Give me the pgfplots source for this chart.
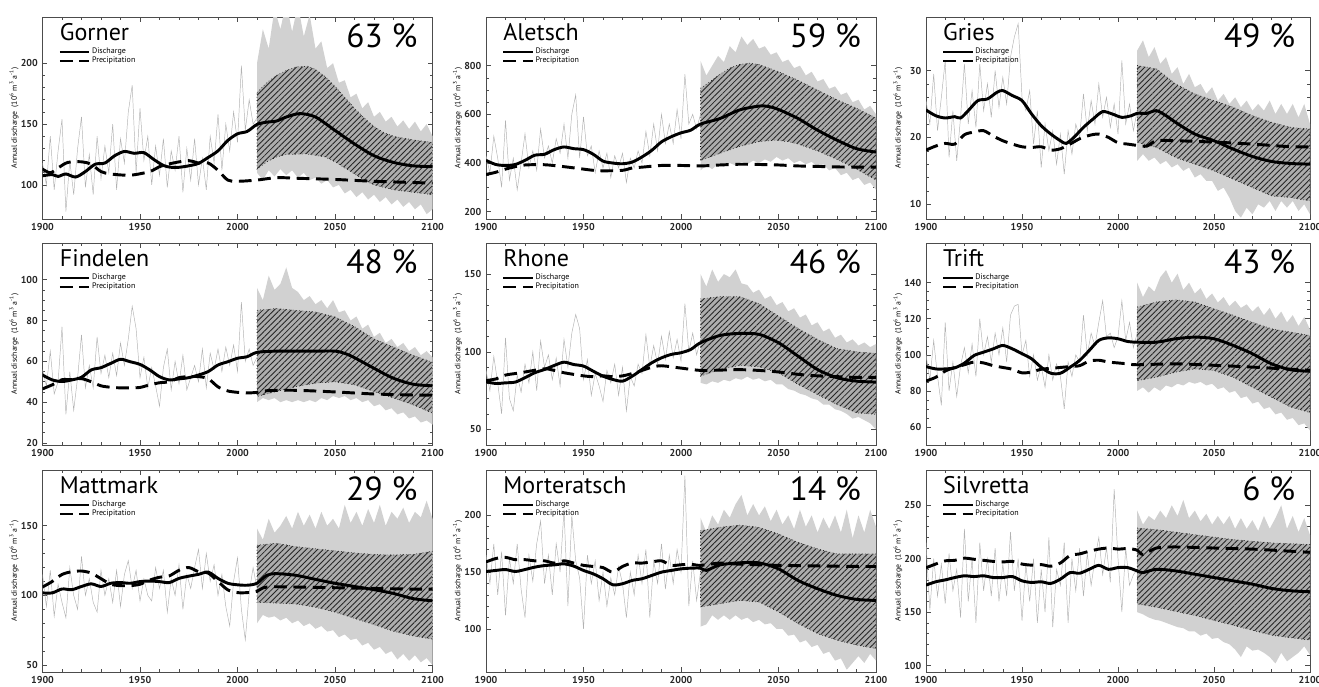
\documentclass[border=0pt]{standalone}
\usepackage{fontspec}
\setmainfont{PT Sans}
\usepackage{pgfplots}
\pgfplotsset{compat=1.18}
\usetikzlibrary{patterns.meta}
\pgfplotsset{
 panel/.style={
   scale only axis, width=292.5pt, height=151.5pt, anchor=north west,
   xmin=1900, xmax=2100, xtick={1900,1950,2000,2050,2100}, minor x tick num=4,
   /pgf/number format/assume math mode=true,
   /pgf/number format/1000 sep={},
   tick label style={font=\fontsize{7.5}{8}\selectfont\bfseries, text=black!85},
   major tick length=3.5pt, minor tick length=2pt,
   every tick/.style={black!70, line width=0.4pt},
   axis line style={black!70, line width=0.5pt},
   tick align=inside,
   legend style={at={(0.041,0.855)}, anchor=north west, draw=none, fill=none,
     font=\fontsize{6}{7}\selectfont, inner sep=0pt, row sep=-1.5pt,
     nodes={inner sep=1.2pt}},
   legend cell align=left,
   legend image code/.code={\draw[#1, line width=1.8pt] (0pt,0pt) -- (22pt,0pt);},
   ylabel={Annual discharge\ \ (10\textsuperscript{6} m\textsuperscript{3} a\textsuperscript{-1})},
   every axis y label/.style={at={(axis description cs:-0.073,0.5)}, rotate=90, anchor=center, font=\fontsize{5.8}{6.5}\selectfont},
 },
 narrow/.style={width=288pt},
 hist/.style={black!30, line width=0.35pt, forget plot},
 env/.style={fill=black!18, draw=none, forget plot},
 band/.style={fill=black!32, draw=black, dotted, line width=0.45pt,
   postaction={draw=none, solid, pattern={Lines[angle=45,distance=3pt,line width=0.65pt]}, pattern color=black!85},
   forget plot},
 dis/.style={black, line width=2.2pt, smooth},
 pre/.style={black, line width=2.2pt, dash pattern=on 9.5pt off 5pt, smooth},
}
\newcommand{\ttl}[2]{%
  \node[anchor=base west, inner sep=0pt, font=\fontsize{18}{20}\selectfont] at (rel axis cs:0.044,0.886) {#1};
  \node[anchor=base east, inner sep=0pt, font=\fontsize{25}{28}\selectfont] at (rel axis cs:0.962,0.851) {#2};}
\begin{document}
\begin{tikzpicture}
\path[use as bounding box] (0,0) rectangle (989.25pt,-514.5pt);
% ---------------- Gorner
\begin{axis}[panel, at={(31.875pt,-12.75pt)}, ymin=72, ymax=238, ytick={100,150,200}, minor y tick num=4]
\addplot[env] coordinates {(2010,200)(2013,228)(2016,212)(2019,245)(2022,228)(2025,250)(2028,226)(2031,248)(2034,222)(2037,240)(2040,212)(2043,218)(2046,196)(2049,200)(2052,184)(2055,186)(2058,172)(2061,175)(2064,163)(2067,168)(2070,156)(2073,160)(2076,152)(2079,156)(2082,148)(2085,153)(2088,146)(2091,152)(2094,144)(2097,150)(2100,140)
(2100,80)(2097,76)(2094,84)(2091,80)(2088,86)(2085,82)(2082,88)(2079,84)(2076,90)(2073,86)(2070,92)(2067,88)(2064,94)(2061,90)(2058,96)(2055,93)(2052,100)(2049,98)(2046,104)(2043,101)(2040,106)(2037,104)(2034,110)(2031,106)(2028,112)(2025,108)(2022,113)(2019,107)(2016,112)(2013,104)(2010,110)};
\addplot[band] coordinates {(2010,176)(2015,184)(2020,190)(2025,194)(2030,197)(2036,197.5)(2040,195)(2045,189)(2050,181)(2055,172)(2060,163)(2065,155)(2070,148)(2075,143)(2080,140)(2090,137)(2100,135)
(2100,92)(2090,94)(2080,96)(2070,100)(2065,104)(2060,109)(2055,114)(2050,119)(2045,123)(2035,125.5)(2025,125)(2020,123)(2015,119)(2010,113)(2010,176)};
\addplot[hist] coordinates {(1900,118)(1902,100)(1904,140)(1906,96)(1908,128)(1910,154)(1912,78)(1914,120)(1916,92)(1918,130)(1920,156)(1922,98)(1924,125)(1926,92)(1928,140)(1930,105)(1932,132)(1934,110)(1936,150)(1938,96)(1940,138)(1942,118)(1944,160)(1946,182)(1948,110)(1950,163)(1952,120)(1954,140)(1956,100)(1958,132)(1960,108)(1962,138)(1964,98)(1966,128)(1968,112)(1970,140)(1972,94)(1974,130)(1976,104)(1978,138)(1980,100)(1982,122)(1984,96)(1986,140)(1988,118)(1990,158)(1992,112)(1994,150)(1996,128)(1998,160)(2000,135)(2002,198)(2004,145)(2006,170)(2008,150)(2010,155)};
\addplot[dis] coordinates {(1900,107.5)(1905,108.5)(1908,107)(1912,109)(1917,106.5)(1922,111)(1927,117)(1932,118)(1937,124)(1942,127.5)(1947,126)(1952,126.5)(1957,121)(1962,116)(1966,114.5)(1970,114.5)(1975,115.7)(1980,117.7)(1985,122.6)(1990,128)(1995,136.5)(2000,142)(2005,144)(2010,149.7)(2015,151.6)(2020,152.5)(2025,155.8)(2032,158.6)(2040,155.8)(2050,144.8)(2060,133.7)(2070,124)(2080,118.5)(2090,115.7)(2100,115)};
\addlegendentry{Discharge}
\addplot[pre] coordinates {(1900,113)(1904,110)(1908,114)(1913,118.5)(1920,119)(1925,117)(1930,111)(1935,109)(1945,108)(1955,111)(1960,115)(1967,118)(1975,120)(1980,118)(1985,118)(1990,112)(1995,104)(2000,103)(2010,104)(2020,106)(2030,105.5)(2050,104.5)(2070,103)(2100,101.5)};
\addlegendentry{Precipitation}
\ttl{Gorner}{63 \%}
\end{axis}
% ---------------- Aletsch
\begin{axis}[panel, at={(364.5pt,-12.75pt)}, ymin=170, ymax=1000, ytick={200,400,600,800}, minor y tick num=3]
\addplot[env] coordinates {(2010,820)(2013,760)(2016,800)(2019,840)(2022,815)(2025,880)(2028,855)(2031,920)(2034,885)(2037,910)(2040,870)(2043,880)(2046,845)(2049,855)(2052,815)(2055,825)(2058,790)(2061,800)(2064,760)(2067,775)(2070,735)(2073,745)(2076,705)(2079,715)(2082,680)(2085,690)(2088,650)(2091,660)(2094,620)(2097,635)(2100,600)
(2100,290)(2097,320)(2094,310)(2091,340)(2088,330)(2085,360)(2082,350)(2079,380)(2076,370)(2073,395)(2070,385)(2067,405)(2064,395)(2061,410)(2058,400)(2055,420)(2052,410)(2049,425)(2046,405)(2043,415)(2040,400)(2037,410)(2034,395)(2031,405)(2028,390)(2025,400)(2022,385)(2019,395)(2016,375)(2013,390)(2010,370)};
\addplot[band] coordinates {(2010,707)(2015,735)(2020,765)(2025,790)(2030,805)(2035,810)(2040,805)(2050,775)(2060,740)(2070,700)(2080,660)(2090,625)(2100,585)
(2100,330)(2090,375)(2080,415)(2070,450)(2060,478)(2055,488)(2048,494)(2040,488)(2030,468)(2020,440)(2010,410)(2010,707)};
\addplot[hist] coordinates {(1900,430)(1902,360)(1904,510)(1906,420)(1908,300)(1910,575)(1912,330)(1914,420)(1916,290)(1918,400)(1920,520)(1922,380)(1924,450)(1926,370)(1928,540)(1930,420)(1932,470)(1934,400)(1936,500)(1938,440)(1940,560)(1942,420)(1944,600)(1946,680)(1948,420)(1950,590)(1952,430)(1954,470)(1956,360)(1958,450)(1960,380)(1962,440)(1964,340)(1966,430)(1968,380)(1970,440)(1972,320)(1974,420)(1976,380)(1978,450)(1980,400)(1982,530)(1984,430)(1986,560)(1988,450)(1990,600)(1992,480)(1994,560)(1996,480)(1998,620)(2000,500)(2002,765)(2004,560)(2006,600)(2008,540)(2010,600)};
\addplot[dis] coordinates {(1900,411)(1905,394)(1910,390)(1915,394)(1920,411)(1925,432)(1930,436)(1935,455)(1940,466)(1945,459)(1950,455)(1955,436)(1960,408)(1965,400)(1970,397)(1975,404)(1980,425)(1985,452)(1990,487)(1995,508)(2000,524)(2005,535)(2010,560)(2020,583)(2030,618)(2040,634)(2045,632)(2050,620)(2060,583)(2070,535)(2080,494)(2090,459)(2100,445)};
\addlegendentry{Discharge}
\addplot[pre] coordinates {(1900,353)(1905,362)(1910,375)(1915,385)(1920,392)(1930,393)(1940,385)(1950,375)(1955,370)(1960,368)(1970,370)(1975,380)(1980,383)(1990,390)(2000,390)(2010,388)(2020,392)(2030,395)(2040,394)(2050,392)(2060,388)(2070,386)(2080,384)(2090,383)(2100,383)};
\addlegendentry{Precipitation}
\ttl{Aletsch}{59 \%}
\end{axis}
% ---------------- Gries
\begin{axis}[panel, narrow, at={(694.5pt,-12.75pt)}, ymin=7.8, ymax=38, ytick={10,20,30}, minor y tick num=4]
\addplot[env] coordinates {(2010,33)(2013,34.5)(2016,32)(2019,33.5)(2022,31)(2025,32)(2028,29.5)(2031,30.5)(2034,28)(2037,29.5)(2040,27.5)(2043,28)(2046,26.5)(2049,27.5)(2052,25.5)(2055,26.5)(2058,25)(2061,26)(2064,24.5)(2067,25.5)(2070,24)(2073,25)(2076,24)(2079,25.5)(2082,23.5)(2085,25)(2088,23.5)(2091,25)(2094,23)(2097,25)(2100,22)
(2100,8.5)(2097,10)(2094,9)(2091,10.5)(2088,9.5)(2085,10.5)(2082,9)(2079,10.5)(2076,9.5)(2073,10)(2070,8.5)(2067,9.5)(2064,8)(2061,9)(2058,11)(2055,12.5)(2052,12)(2049,13.5)(2046,13.5)(2043,14.5)(2040,14)(2037,15.5)(2034,15)(2031,16)(2028,15.5)(2025,16.5)(2022,16)(2019,17)(2016,16.5)(2013,17.5)(2010,16.5)};
\addplot[band] coordinates {(2010,30.75)(2020,30.25)(2030,28)(2040,26.5)(2050,25.5)(2060,24.5)(2070,23.25)(2080,22.25)(2090,21.5)(2100,21.25)
(2100,10.5)(2090,11)(2080,11.25)(2070,12.5)(2060,13.75)(2050,15)(2040,16)(2030,17)(2020,18.5)(2010,19.25)(2010,30.75)};
\addplot[hist] coordinates {(1900,25.5)(1902,22)(1904,29.5)(1906,21)(1908,26)(1910,31.5)(1912,17)(1914,24)(1916,16.5)(1918,23)(1920,31)(1922,22)(1924,27)(1926,21.5)(1928,31)(1930,24)(1932,28)(1934,23)(1936,30)(1938,24.5)(1940,29)(1942,25)(1944,32)(1946,35)(1948,37)(1950,26)(1952,24)(1954,27)(1956,19)(1958,24)(1960,15.5)(1962,22)(1964,18)(1966,21)(1968,16)(1970,20.5)(1972,14.5)(1974,21)(1976,17.5)(1978,22)(1980,20)(1982,26.5)(1984,21)(1986,25.5)(1988,22)(1990,28)(1992,23)(1994,26)(1996,21.5)(1998,25)(2000,20.5)(2002,31.5)(2004,22)(2006,25)(2008,21)(2010,24)};
\addplot[dis] coordinates {(1900,24.1)(1905,23.25)(1910,22.9)(1915,23.1)(1918,22.9)(1922,24)(1927,25.5)(1932,25.75)(1937,26.75)(1940,27)(1945,26.25)(1950,25.5)(1955,23.5)(1960,21.75)(1965,20.5)(1970,19.5)(1973,19.1)(1977,20)(1982,21.5)(1987,22.75)(1992,23.85)(1997,23.5)(2002,23)(2007,23.25)(2010,23.6)(2015,23.6)(2020,24)(2025,23.25)(2030,22.25)(2040,20.5)(2050,19.5)(2060,18.25)(2070,17.15)(2080,16.4)(2090,16.1)(2100,16)};
\addlegendentry{Discharge}
\addplot[pre] coordinates {(1900,18.1)(1905,18.7)(1910,19.1)(1915,19.0)(1920,20.4)(1925,20.8)(1930,21.0)(1935,20.2)(1940,19.5)(1945,19.0)(1950,18.6)(1955,18.5)(1960,18.6)(1965,18.1)(1970,18.3)(1975,19.0)(1980,19.8)(1985,20.3)(1990,20.5)(1995,20.0)(2000,19.2)(2005,19.0)(2010,18.8)(2015,18.7)(2020,19.5)(2030,19.5)(2050,19.3)(2070,19.0)(2090,18.6)(2100,18.6)};
\addlegendentry{Precipitation}
\ttl{Gries}{49 \%}
\end{axis}
% ---------------- Findelen
\begin{axis}[panel, at={(31.875pt,-182.25pt)}, ymin=19, ymax=118, ytick={20,40,60,80,100}, minor y tick num=3]
\addplot[env] coordinates {(2010,96)(2013,90)(2016,102)(2019,95)(2022,98)(2025,106)(2028,96)(2031,94)(2034,90)(2037,92)(2040,88)(2043,90)(2046,86)(2049,90)(2052,84)(2055,85)(2058,80)(2061,82)(2064,76)(2067,78)(2070,72)(2073,74)(2076,69)(2079,71)(2082,67)(2085,69)(2088,65)(2091,67)(2094,63)(2097,65)(2100,62)
(2100,29)(2097,31)(2094,30)(2091,33)(2088,32)(2085,35)(2082,34)(2079,37)(2076,36)(2073,39)(2070,38)(2067,41)(2064,40)(2061,42)(2058,41)(2055,43)(2052,42)(2049,43)(2046,41)(2043,42)(2040,40)(2037,41)(2034,40)(2031,41)(2028,40)(2025,41)(2022,40)(2019,42)(2016,41)(2013,42)(2010,40)};
\addplot[band] coordinates {(2010,85)(2020,85.9)(2030,85)(2040,84.2)(2050,81.8)(2060,77)(2070,71)(2080,67)(2090,63)(2100,59.5)
(2100,34.6)(2090,38.7)(2080,42)(2070,45.2)(2060,48.5)(2050,50)(2040,49.3)(2030,47.6)(2020,45.2)(2010,42.8)(2010,85)};
\addplot[hist] coordinates {(1900,56)(1902,48)(1904,65)(1906,44)(1908,50)(1910,77)(1912,34)(1914,55)(1916,36)(1918,52)(1920,73)(1922,47)(1924,58)(1926,47)(1928,72)(1930,54)(1932,63)(1934,52)(1936,64)(1938,53)(1940,69)(1942,58)(1944,71)(1946,87)(1948,76)(1950,52)(1952,62)(1954,47)(1956,57)(1958,48)(1960,38)(1962,57)(1964,66)(1966,46)(1968,60)(1970,49)(1972,63)(1974,46)(1976,52)(1978,58)(1980,50)(1982,66)(1984,47)(1986,64)(1988,56)(1990,66)(1992,55)(1994,67)(1996,58)(1998,68)(2000,55)(2002,89)(2004,60)(2006,66)(2008,58)(2010,62)};
\addplot[dis] coordinates {(1900,53.3)(1905,50.9)(1910,50.1)(1915,50.9)(1920,52.2)(1925,55.8)(1930,56.9)(1935,59)(1940,61)(1945,59.8)(1950,58.5)(1955,55.8)(1960,52.5)(1965,50.9)(1970,51.4)(1975,52)(1980,53.3)(1985,55)(1990,58.2)(1995,59.8)(2000,61.5)(2005,62.3)(2010,64.4)(2020,65)(2030,65)(2040,65)(2050,65)(2055,63.9)(2060,61.8)(2070,56.6)(2080,51.7)(2090,48.8)(2100,48)};
\addlegendentry{Discharge}
\addplot[pre] coordinates {(1900,46.5)(1905,48.5)(1910,51)(1915,51)(1920,51.5)(1925,50)(1930,48)(1935,47.3)(1940,47)(1945,47)(1950,47.2)(1955,48.5)(1960,49.5)(1965,50)(1970,52)(1975,52.5)(1980,52.5)(1985,51.5)(1990,47.5)(1995,45.5)(2000,44.8)(2005,44.5)(2010,44.8)(2015,45.6)(2030,45.8)(2050,45)(2070,44)(2090,43.5)(2100,43.5)};
\addlegendentry{Precipitation}
\ttl{Findelen}{48 \%}
\end{axis}
% ---------------- Rhone
\begin{axis}[panel, at={(364.5pt,-182.25pt)}, ymin=40, ymax=170, ytick={50,100,150}, minor y tick num=4]
\addplot[env] coordinates {(2010,150)(2013,142)(2016,153)(2019,145)(2022,150)(2025,148)(2028,153)(2031,144)(2034,143)(2037,138)(2040,140)(2043,134)(2046,136)(2049,130)(2052,132)(2055,126)(2058,128)(2061,122)(2064,124)(2067,117)(2070,119)(2073,113)(2076,115)(2079,109)(2082,111)(2085,106)(2088,108)(2091,104)(2094,106)(2097,103)(2100,105)
(2100,50)(2097,54)(2094,56)(2091,58)(2088,57)(2085,60)(2082,62)(2079,63)(2076,66)(2073,66)(2070,69)(2067,70)(2064,72)(2061,73)(2058,75)(2055,76)(2052,79)(2049,79)(2046,82)(2043,81)(2040,83)(2037,82)(2034,84)(2031,82)(2028,83)(2025,81)(2022,82)(2019,80)(2016,81)(2013,79)(2010,80)};
\addplot[band] coordinates {(2010,134)(2020,135.5)(2030,135.5)(2040,131)(2050,123)(2060,115)(2070,108)(2080,102)(2090,100)(2100,99)
(2100,59.7)(2090,60.7)(2080,66)(2070,72.5)(2060,79)(2050,86.5)(2040,90.3)(2030,91.2)(2020,88.6)(2010,84.3)(2010,134)};
\addplot[hist] coordinates {(1900,88)(1902,75)(1904,97)(1906,80)(1908,60)(1910,109)(1912,70)(1914,62)(1916,85)(1918,74)(1920,92)(1922,80)(1924,100)(1926,75)(1928,107)(1930,90)(1932,98)(1934,82)(1936,96)(1938,78)(1940,108)(1942,90)(1944,112)(1946,124)(1948,115)(1950,82)(1952,95)(1954,72)(1956,86)(1958,78)(1960,68)(1962,88)(1964,80)(1966,92)(1968,72)(1970,90)(1972,62)(1974,84)(1976,78)(1978,92)(1980,86)(1982,111)(1984,90)(1986,104)(1988,92)(1990,110)(1992,95)(1994,113)(1996,96)(1998,108)(2000,94)(2002,131)(2004,100)(2006,112)(2008,98)(2010,108)};
\addplot[dis] coordinates {(1900,80.7)(1905,79.6)(1910,80)(1915,80.5)(1920,83.3)(1925,86.5)(1930,88.6)(1935,91.2)(1940,93.3)(1945,91.8)(1950,90.8)(1955,87.5)(1960,84.3)(1965,82.2)(1970,81.1)(1975,84.3)(1980,88.6)(1985,92.9)(1990,96.1)(1995,98.3)(2000,99.4)(2005,101.5)(2010,105.8)(2020,110.5)(2030,111.8)(2040,111.2)(2050,105.8)(2060,97.2)(2070,88.6)(2080,83.3)(2090,81.1)(2100,80.5)};
\addlegendentry{Discharge}
\addplot[pre] coordinates {(1900,81.5)(1905,82.5)(1910,85)(1915,86)(1920,87)(1930,89)(1935,88)(1940,86.5)(1950,84.5)(1955,84)(1960,84.5)(1965,84)(1970,84.5)(1975,86)(1980,88)(1985,90)(1990,91)(2000,89.5)(2010,88)(2020,88.2)(2030,88.5)(2040,88)(2050,87)(2060,85.5)(2070,84.5)(2080,84)(2090,83.5)(2100,83.5)};
\addlegendentry{Precipitation}
\ttl{Rhone}{46 \%}
\end{axis}
% ---------------- Trift
\begin{axis}[panel, narrow, at={(694.5pt,-182.25pt)}, ymin=50, ymax=162, ytick={60,80,100,120,140}, minor y tick num=3]
\addplot[env] coordinates {(2010,140)(2013,132)(2016,138)(2019,135)(2022,143)(2025,147)(2028,140)(2031,145)(2034,136)(2037,140)(2040,134)(2043,137)(2046,131)(2049,134)(2052,129)(2055,132)(2058,127)(2061,130)(2064,126)(2067,128)(2070,124)(2073,127)(2076,122)(2079,126)(2082,120)(2085,124)(2088,118)(2091,122)(2094,116)(2097,121)(2100,114)
(2100,58)(2097,62)(2094,61)(2091,65)(2088,64)(2085,68)(2082,67)(2079,71)(2076,70)(2073,74)(2070,73)(2067,77)(2064,76)(2061,80)(2058,79)(2055,82)(2052,81)(2049,84)(2046,83)(2043,85)(2040,84)(2037,85)(2034,83)(2031,84)(2028,82)(2025,83)(2022,80)(2019,82)(2016,79)(2013,82)(2010,80)};
\addplot[band] coordinates {(2010,126.5)(2020,129.3)(2030,130.5)(2040,129.3)(2050,125.5)(2060,121.9)(2070,118)(2080,114.4)(2090,112.6)(2100,110.7)
(2100,68)(2090,71)(2080,76.5)(2070,82)(2060,87.6)(2050,91.3)(2040,92.2)(2030,90.4)(2020,87.6)(2010,85.7)(2010,126.5)};
\addplot[hist] coordinates {(1900,100)(1902,86)(1904,108)(1906,88)(1908,72)(1910,118)(1912,80)(1914,96)(1916,77)(1918,94)(1920,104)(1922,90)(1924,106)(1926,88)(1928,120)(1930,100)(1932,110)(1934,96)(1936,112)(1938,100)(1940,115)(1942,96)(1944,122)(1946,127)(1948,128)(1950,100)(1952,108)(1954,88)(1956,100)(1958,86)(1960,94)(1962,82)(1964,100)(1966,86)(1968,95)(1970,88)(1972,70)(1974,96)(1976,88)(1978,100)(1980,96)(1982,122)(1984,100)(1986,112)(1988,105)(1990,118)(1992,130)(1994,110)(1996,112)(1998,104)(2000,110)(2002,130)(2004,108)(2006,118)(2008,104)(2010,112)};
\addplot[dis] coordinates {(1900,93.5)(1905,92.2)(1910,92.2)(1915,92.8)(1920,95.4)(1925,99.6)(1930,101.5)(1935,103.3)(1940,105.2)(1945,103.3)(1950,100.6)(1955,97.8)(1960,93.1)(1965,89.8)(1970,89.8)(1975,93.1)(1980,96.9)(1985,102.4)(1990,108)(1995,109.4)(2000,108.9)(2005,107.4)(2010,107)(2020,107)(2030,108.9)(2040,109.8)(2050,108.9)(2060,105.2)(2070,100.6)(2080,95)(2090,91.7)(2100,90.9)};
\addlegendentry{Discharge}
\addplot[pre] coordinates {(1900,85.5)(1905,87.5)(1910,91)(1915,93)(1920,94.5)(1925,96)(1930,95.5)(1935,94)(1940,93)(1945,92)(1950,90)(1955,90.5)(1960,92)(1965,92.5)(1970,93)(1975,93.5)(1980,94)(1985,96.5)(1990,97)(1995,96)(2000,95.5)(2005,95)(2010,94.5)(2030,95)(2050,94.2)(2070,93.2)(2090,92)(2100,91.5)};
\addlegendentry{Precipitation}
\ttl{Trift}{43 \%}
\end{axis}
% ---------------- Mattmark
\begin{axis}[panel, at={(31.875pt,-352.5pt)}, ymin=45, ymax=190, ytick={50,100,150}, minor y tick num=4]
\addplot[env] coordinates {(2010,148)(2013,140)(2016,155)(2019,145)(2022,150)(2025,157)(2028,148)(2031,160)(2034,150)(2037,158)(2040,148)(2043,160)(2046,150)(2049,155)(2052,148)(2055,165)(2058,152)(2061,160)(2064,150)(2067,162)(2070,152)(2073,165)(2076,150)(2079,160)(2082,155)(2085,163)(2088,152)(2091,160)(2094,156)(2097,168)(2100,155)
(2100,50)(2097,55)(2094,52)(2091,57)(2088,53)(2085,58)(2082,54)(2079,60)(2076,58)(2073,63)(2070,61)(2067,66)(2064,64)(2061,69)(2058,68)(2055,72)(2052,70)(2049,75)(2046,74)(2043,78)(2040,76)(2037,80)(2034,78)(2031,82)(2028,80)(2025,84)(2022,82)(2019,85)(2016,84)(2013,86)(2010,80)};
\addplot[band] coordinates {(2010,136)(2020,137.4)(2030,135)(2040,133.5)(2050,132)(2060,130.5)(2070,129.4)(2080,129)(2090,129.4)(2100,131.7)
(2100,68.6)(2090,70.9)(2080,74.3)(2070,79)(2060,83.5)(2050,88)(2040,91.5)(2030,93.8)(2020,94.5)(2010,95)(2010,136)};
\addplot[hist] coordinates {(1900,115)(1902,92)(1904,118)(1906,85)(1908,108)(1910,95)(1912,84)(1914,120)(1916,100)(1918,90)(1920,128)(1922,100)(1924,112)(1926,95)(1928,88)(1930,118)(1932,100)(1934,112)(1936,95)(1938,118)(1940,92)(1942,115)(1944,125)(1946,105)(1948,118)(1950,96)(1952,112)(1954,100)(1956,96)(1958,120)(1960,105)(1962,118)(1964,88)(1966,112)(1968,100)(1970,122)(1972,90)(1974,115)(1976,105)(1978,120)(1980,133)(1982,105)(1984,130)(1986,110)(1988,122)(1990,100)(1992,115)(1994,92)(1996,78)(1998,110)(2000,127)(2002,90)(2004,68)(2006,102)(2008,120)(2010,105)};
\addplot[dis] coordinates {(1900,101.8)(1905,101.8)(1910,104.6)(1915,104.1)(1920,106.4)(1925,108.3)(1930,106.4)(1935,108.7)(1940,109.2)(1945,108.7)(1950,109.9)(1955,110.3)(1960,109.9)(1965,109.2)(1970,112.2)(1975,113.8)(1980,115.1)(1985,116.7)(1990,112.2)(1995,108.7)(2000,107.6)(2005,107.3)(2010,108.7)(2015,114.4)(2020,115.6)(2030,114.4)(2040,111.5)(2050,108.7)(2060,106.4)(2070,104.1)(2080,101.4)(2090,97.7)(2100,96.1)};
\addlegendentry{Discharge}
\addplot[pre] coordinates {(1900,106)(1905,110)(1910,115)(1915,117)(1920,117.5)(1925,116)(1930,112)(1935,108)(1940,107)(1945,107)(1950,108)(1955,111)(1960,113)(1965,114)(1970,118)(1975,120)(1980,117)(1985,116)(1990,110)(1995,104)(2000,102)(2005,102)(2010,103)(2015,106)(2030,106)(2050,105.5)(2070,105)(2090,104.5)(2100,104.5)};
\addlegendentry{Precipitation}
\ttl{Mattmark}{29 \%}
\end{axis}
% ---------------- Morteratsch
\begin{axis}[panel, at={(364.5pt,-352.5pt)}, ymin=62, ymax=240, ytick={100,150,200}, minor y tick num=4]
\addplot[env] coordinates {(2010,198)(2013,185)(2016,200)(2019,192)(2022,205)(2025,198)(2028,210)(2031,218)(2034,200)(2037,210)(2040,200)(2043,208)(2046,195)(2049,205)(2052,192)(2055,200)(2058,188)(2061,205)(2064,190)(2067,200)(2070,185)(2073,198)(2076,188)(2079,200)(2082,185)(2085,205)(2088,180)(2091,200)(2094,185)(2097,205)(2100,190)
(2100,72)(2097,78)(2094,70)(2091,76)(2088,70)(2085,64)(2082,74)(2079,72)(2076,80)(2073,78)(2070,86)(2067,84)(2064,90)(2061,88)(2058,95)(2055,94)(2052,100)(2049,100)(2046,105)(2043,104)(2040,108)(2037,106)(2034,110)(2031,108)(2028,112)(2025,108)(2022,112)(2019,108)(2016,112)(2013,104)(2010,102)};
\addplot[band] coordinates {(2010,186.5)(2020,189.5)(2030,191.5)(2040,189.5)(2050,183.6)(2060,176.3)(2070,170.5)(2080,166)(2090,166)(2100,166)
(2100,82.7)(2090,85.7)(2080,90)(2070,95.9)(2060,104.7)(2050,115)(2040,123.7)(2030,125.1)(2020,122.2)(2010,119.3)(2010,186.5)};
\addplot[hist] coordinates {(1900,165)(1902,140)(1904,175)(1906,130)(1908,168)(1910,112)(1912,162)(1914,140)(1916,175)(1918,135)(1920,110)(1922,165)(1924,142)(1926,175)(1928,195)(1930,140)(1932,165)(1934,130)(1936,175)(1938,150)(1940,205)(1942,120)(1944,200)(1946,160)(1948,145)(1950,100)(1952,165)(1954,140)(1956,160)(1958,125)(1960,150)(1962,120)(1964,145)(1966,130)(1968,155)(1970,140)(1972,110)(1974,150)(1976,130)(1978,165)(1980,140)(1982,170)(1984,110)(1986,160)(1988,140)(1990,175)(1992,135)(1994,165)(1996,140)(1998,170)(2000,150)(2002,235)(2004,120)(2006,160)(2008,125)(2010,150)};
\addplot[dis] coordinates {(1900,150.6)(1905,151.5)(1910,152.3)(1915,150.6)(1920,152.3)(1925,154.4)(1930,155.8)(1935,156.4)(1940,157.3)(1945,155.3)(1950,151.5)(1955,148.5)(1960,144.2)(1965,138.9)(1970,139.8)(1975,142.7)(1980,144.2)(1985,147.1)(1990,150)(1995,151.5)(2000,152.9)(2005,153.5)(2010,153.5)(2013,151.5)(2020,156.4)(2030,158.2)(2040,158.2)(2050,152.9)(2060,142.7)(2070,135.4)(2080,129.5)(2090,126)(2100,125.1)};
\addlegendentry{Discharge}
\addplot[pre] coordinates {(1900,159)(1905,162)(1910,163)(1915,161)(1920,161)(1925,160)(1930,160)(1935,158)(1940,160)(1945,158)(1950,156)(1955,155)(1960,154)(1965,150)(1970,155)(1975,158)(1980,158)(1985,159)(1990,160)(1995,156)(2000,156.5)(2005,157)(2010,156)(2020,158)(2030,157)(2050,156)(2070,155.5)(2090,155)(2100,155)};
\addlegendentry{Precipitation}
\ttl{Morteratsch}{14 \%}
\end{axis}
% ---------------- Silvretta
\begin{axis}[panel, narrow, at={(694.5pt,-352.5pt)}, ymin=94, ymax=283, ytick={100,150,200,250}, minor y tick num=4]
\addplot[env] coordinates {(2010,245)(2013,232)(2016,240)(2019,236)(2022,245)(2025,238)(2028,250)(2031,240)(2034,255)(2037,238)(2040,245)(2043,235)(2046,242)(2049,232)(2052,240)(2055,232)(2058,240)(2061,228)(2064,238)(2067,228)(2070,236)(2073,226)(2076,240)(2079,228)(2082,238)(2085,250)(2088,228)(2091,240)(2094,225)(2097,238)(2100,222)
(2100,110)(2097,118)(2094,112)(2091,108)(2088,104)(2085,112)(2082,102)(2079,108)(2076,112)(2073,115)(2070,114)(2067,118)(2064,108)(2061,115)(2058,120)(2055,122)(2052,126)(2049,125)(2046,130)(2043,128)(2040,132)(2037,132)(2034,135)(2031,136)(2028,138)(2025,140)(2022,142)(2019,143)(2016,145)(2013,148)(2010,150)};
\addplot[band] coordinates {(2010,228.7)(2020,227.2)(2040,222.5)(2060,217.9)(2080,214.8)(2100,213.3)
(2100,123.8)(2080,128.4)(2060,137.7)(2040,146.9)(2020,154.6)(2010,157.7)(2010,228.7)};
\addplot[hist] coordinates {(1900,215)(1902,152)(1904,200)(1906,165)(1908,195)(1910,158)(1912,205)(1914,170)(1916,190)(1918,145)(1920,228)(1922,160)(1924,200)(1926,140)(1928,215)(1930,170)(1932,200)(1934,165)(1936,210)(1938,160)(1940,195)(1942,165)(1944,225)(1946,170)(1948,200)(1950,142)(1952,195)(1954,160)(1956,200)(1958,140)(1960,190)(1962,150)(1964,220)(1966,136)(1968,190)(1970,175)(1972,215)(1974,140)(1976,200)(1978,170)(1980,210)(1982,165)(1984,205)(1986,175)(1988,200)(1990,220)(1992,185)(1994,210)(1996,178)(1998,265)(2000,200)(2002,150)(2004,210)(2006,175)(2008,185)(2010,190)};
\addplot[dis] coordinates {(1900,175.3)(1905,178.4)(1910,180.2)(1915,182.4)(1920,184)(1925,183.3)(1930,184)(1935,182.4)(1940,182.4)(1945,183.3)(1950,179.3)(1955,177.8)(1960,178.4)(1965,176.9)(1970,180.9)(1975,187)(1980,186.4)(1985,190.1)(1990,193.8)(1995,190.1)(2000,191.7)(2005,191.7)(2010,188.6)(2013,187)(2020,190.1)(2030,188.6)(2040,185.5)(2050,182.4)(2060,179.3)(2070,176.2)(2080,172.2)(2090,170)(2100,169.1)};
\addlegendentry{Discharge}
\addplot[pre] coordinates {(1900,191.5)(1905,195)(1910,198)(1915,198.5)(1920,200.5)(1925,199.5)(1930,198.5)(1935,197.5)(1940,197)(1945,197.5)(1950,195)(1955,194)(1960,194.5)(1965,193)(1970,196)(1975,203)(1980,204.5)(1985,207)(1990,209)(1995,210)(2000,209)(2005,209.5)(2010,208)(2013,204)(2020,210)(2030,211)(2050,210)(2070,209)(2090,207)(2100,206)};
\addlegendentry{Precipitation}
\ttl{Silvretta}{6 \%}
\end{axis}
\end{tikzpicture}
\end{document}
